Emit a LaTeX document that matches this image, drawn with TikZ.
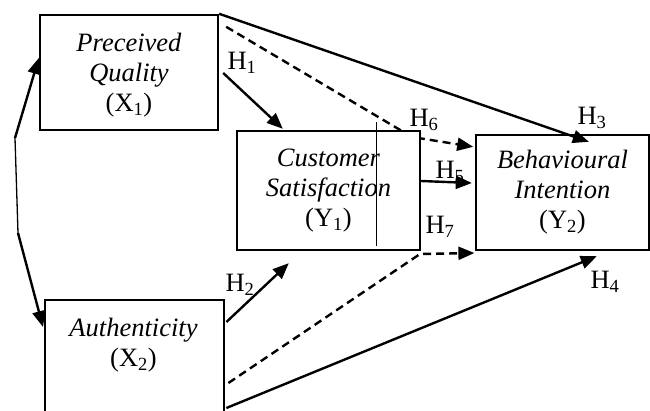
\documentclass[tikz,border=0pt]{standalone}
\usepackage{fontspec}
\setmainfont{Liberation Serif}
\usetikzlibrary{calc,arrows.meta}

\begin{document}
\begin{tikzpicture}[x=1pt,y=-1pt,
    box/.style={draw,line width=2.4pt,fill=white,inner sep=0pt,align=center,
        font=\fontsize{26.5}{30}\selectfont},
    hlabel/.style={font=\fontsize{26.5}{30}\selectfont,inner sep=0pt},
    link/.style={line width=2.4pt,-{Triangle[length=16pt,width=13pt]}},
    dlink/.style={link,dash pattern=on 8pt off 5pt}]
            \clip (0,0) rectangle (650,410);

            % dashed paths go behind the boxes
            \coordinate (b6) at (412,137);
            \coordinate (b7) at (420,254);

            \node[box,minimum width=178,minimum height=115] (x1) at (129,72.5) {};
            \node[box,minimum width=179,minimum height=125,anchor=north west] (x2) at (44,299) {};
            \draw[dlink] ($ (x1.north east) + (7,13) $) -- (b6) -- ($ (x1.north east) + (254,133) $);
            \draw[dlink] ($ (x2.north east) + (3,84) $) -- (b7) -- ($ (x2.north east) + (249,-46) $);

            \node[box,minimum width=183,minimum height=119] (y1) at (328.5,190.5)
                {\textit{Customer}\\\textit{Satisfaction}\\(Y\textsubscript{1})};
            \node[box,minimum width=173,minimum height=115] (y2) at (562.5,192.5)
                {\textit{Behavioural}\\\textit{Intention}\\(Y\textsubscript{2})};
            \node[hlabel,align=center] (x1t) at (129,75) {\textit{Preceived}\\\textit{Quality}\\(X\textsubscript{1})};
            \node[hlabel,align=center] (x2t) at (133.5,345) {\textit{Authenticity}\\(X\textsubscript{2})};

            \draw[line width=0.9pt] ($ (y1.north west) + (141,-8) $) -- ($ (y1.north west) + (141,116) $);

            % double headed link on the left
            \coordinate (l1) at (15,138);
            \coordinate (l2) at (18,233);
            \draw[link] (l1) -- ($ (x1.west) + (0,-14.5) $);
            \draw[line width=1.3pt] (l1) -- (l2);
            \draw[link] (l2) -- ($ (x2.north west) + (-1,28) $);

            \node[hlabel] (h1) at (242,63) {H\textsubscript{1}};
            \node[hlabel] (h2) at (240,285) {H\textsubscript{2}};
            \node[hlabel] (h3) at (592,118) {H\textsubscript{3}};
            \node[hlabel] (h4) at (605,282) {H\textsubscript{4}};
            \node[hlabel] (h5) at (450,172) {H\textsubscript{5}};
            \node[hlabel] (h6) at (424,120) {H\textsubscript{6}};
            \node[hlabel] (h7) at (440,227) {H\textsubscript{7}};

            \draw[link] ($ (x1.east) + (4,0.5) $) -- ($ (y1.north west) + (47,-1) $);
            \draw[link] ($ (x2.north east) + (1,23) $) -- ($ (y1.south west) + (53,12) $);
            \draw[link] (x1.north east) -- ($ (y2.north west) + (114,8) $);
            \draw[link] ($ (x2.north east) + (1,109) $) -- ($ (y2.south west) + (122,5) $);
            \draw[link] ($ (y1.east) + (0,-9.5) $) -- ($ (y2.west) + (-3,-9.5) $);
        \end{tikzpicture}
\end{document}
